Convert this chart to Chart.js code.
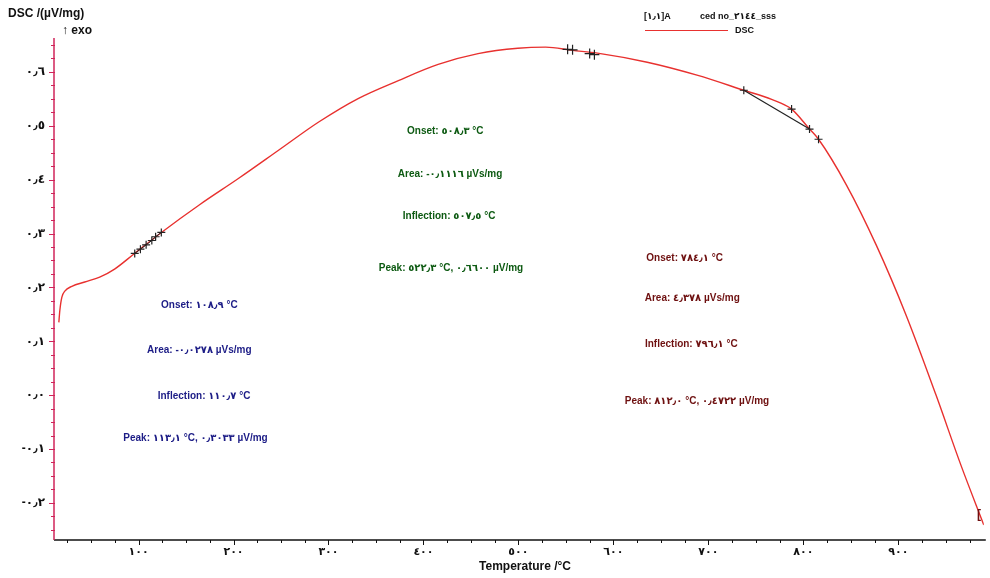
<!DOCTYPE html>
<html><head><meta charset="utf-8">
<script src="https://cdn.jsdelivr.net/npm/chart.js@4"></script>
<style>html,body{margin:0;padding:0;background:#fff}#wrap{width:990px;height:578px}</style>
</head><body><div id="wrap"><canvas id="c" width="990" height="578"></canvas></div>
<script>
// ---- data ----
const temperature = [16.1,17.2,19.3,22.4,29.8,43.4,59.1,74.8,95.8,124.1,163.9,205.9,247.8,289.7,331.7,373.6,415.5,457.5,499.4,528.7,557,583.2,635.6,688,737.3,766.6,787.6,806.5,816,845.4,876.9,908.3,939.7,965.9,990];
const dscSignal   = [0.135,0.158,0.182,0.193,0.202,0.210,0.219,0.234,0.263,0.302,0.353,0.403,0.455,0.507,0.551,0.584,0.614,0.634,0.644,0.646,0.640,0.635,0.618,0.594,0.566,0.549,0.531,0.494,0.475,0.390,0.278,0.148,0.0,-0.130,-0.241];
const onsetMarkT = [96,102,108,114,118,124];
const onsetMarkV = [0.263,0.271,0.279,0.287,0.294,0.302];
const peakMarkT = [551.8,557,575,580];
const peakMarkV = [0.642,0.641,0.634,0.632];
const endoMarkT = [737.3,787.6,806.5,816];
const endoMarkV = [0.566,0.531,0.494,0.475];
const baselineT = [737.3,806.5];
const baselineV = [0.566,0.494];
const yTicks = [-0.2,-0.1,0,0.1,0.2,0.3,0.4,0.5,0.6];
const xTicks = [100,200,300,400,500,600,700,800,900];
const greenTexts = ['Onset: ٥٠٨٫٣ °C','Area: -٠٫١١١٦ µVs/mg','Inflection: ٥٠٧٫٥ °C','Peak: ٥٢٢٫٣ °C, ٠٫٦٦٠٠ µV/mg'];
const greenT = [423,428,427,429];
const greenV = [0.490,0.410,0.332,0.236];
const blueTexts = ['Onset: ١٠٨٫٩ °C','Area: -٠٫٠٢٧٨ µVs/mg','Inflection: ١١٠٫٧ °C','Peak: ١١٣٫١ °C, ٠٫٣٠٣٣ µV/mg'];
const blueT = [164,164,169,160];
const blueV = [0.167,0.083,-0.002,-0.080];
const redTexts = ['Onset: ٧٨٤٫١ °C','Area: ٤٫٣٧٨ µVs/mg','Inflection: ٧٩٦٫١ °C','Peak: ٨١٢٫٠ °C, ٠٫٤٧٢٢ µV/mg'];
const redT = [675,683,682,688];
const redV = [0.254,0.180,0.095,-0.011];

const AR = '٠١٢٣٤٥٦٧٨٩';
function toAr(s){ return String(s).replace(/[0-9]/g,d=>AR[+d]).replace('.', '٫'); }
function pts(xs, ys){ return xs.map((x,i)=>({x:x,y:ys[i]})); }

const FONT = '"Liberation Sans","DejaVu Sans",Arial,sans-serif';
const CURVE = '#e8312f';
const AXISRED = '#d0245a';

const overlay = {
  id:'overlay',
  afterDraw(chart){
    const ctx = chart.ctx, a = chart.chartArea, xs = chart.scales.x, ys = chart.scales.y;
    ctx.save();
    ctx.lineWidth = 1.5;
    ctx.strokeStyle = '#111';
    ctx.beginPath(); ctx.moveTo(a.left, a.bottom); ctx.lineTo(a.right+2, a.bottom); ctx.stroke();
    ctx.strokeStyle = AXISRED;
    ctx.beginPath(); ctx.moveTo(a.left, a.top); ctx.lineTo(a.left, a.bottom); ctx.stroke();
    ctx.lineWidth = 1;
    for (let v=-0.25; v<=0.66; v+=0.025){
      const p = Math.round(ys.getPixelForValue(v))+0.5;
      if (p < a.top || p > a.bottom) continue;
      const major = Math.abs(v*10 - Math.round(v*10)) < 1e-6;
      ctx.beginPath(); ctx.moveTo(a.left - (major?5:3), p); ctx.lineTo(a.left+1, p); ctx.stroke();
    }
    ctx.strokeStyle = '#111';
    for (let v=25; v<=975; v+=25){
      const p = Math.round(xs.getPixelForValue(v))+0.5;
      const major = v % 100 === 0;
      ctx.beginPath(); ctx.moveTo(p, a.bottom); ctx.lineTo(p, a.bottom + (major?5:3)); ctx.stroke();
    }
    ctx.fillStyle = '#111';
    ctx.font = 'bold 12px ' + FONT;
    ctx.textAlign = 'left'; ctx.textBaseline = 'middle';
    ctx.fillText('DSC /(µV/mg)', 8, 14);
    ctx.fillText('↑ exo', 62, 31);
    ctx.textAlign = 'center';
    ctx.fillText('Temperature /°C', 525, 567);
    ctx.font = 'bold 9px ' + FONT;
    ctx.textAlign = 'left';
    ctx.fillText('[١٫١]A', 644, 17);
    ctx.fillText('ced no_٢١٤٤_sss', 700, 17);
    ctx.fillText('DSC', 735, 31);
    ctx.strokeStyle = CURVE; ctx.lineWidth = 1.2;
    ctx.beginPath(); ctx.moveTo(645, 30.5); ctx.lineTo(728, 30.5); ctx.stroke();
    ctx.font = 'bold 10px ' + FONT;
    ctx.textAlign = 'center';
    const groups = [[greenTexts,greenT,greenV,'#0d5a12'],[blueTexts,blueT,blueV,'#1c1c86'],[redTexts,redT,redV,'#6e1010']];
    groups.forEach(g=>{
      ctx.fillStyle = g[3];
      g[0].forEach((t,i)=>ctx.fillText(t, xs.getPixelForValue(g[1][i]), ys.getPixelForValue(g[2][i])));
    });
    ctx.fillStyle = '#6e1010';
    ctx.font = 'bold 12px ' + FONT;
    ctx.fillText('[', xs.getPixelForValue(985), ys.getPixelForValue(-0.222));
    ctx.restore();
  }
};

new Chart(document.getElementById('c'), {
  type:'line',
  data:{ datasets:[
    {data:pts(temperature,dscSignal), borderColor:CURVE, borderWidth:1.4, pointRadius:0, cubicInterpolationMode:'monotone', order:3},
    {data:pts(onsetMarkT,onsetMarkV), borderColor:'#222', backgroundColor:'#222', borderWidth:1, showLine:true, pointStyle:'cross', pointRadius:4, pointBorderWidth:1.2, order:1},
    {data:pts(peakMarkT,peakMarkV), borderColor:'#222', showLine:false, pointStyle:'cross', pointRadius:5, pointBorderWidth:1.2, order:1},
    {data:pts(endoMarkT,endoMarkV), borderColor:'#222', showLine:false, pointStyle:'cross', pointRadius:4, pointBorderWidth:1.2, order:1},
    {data:pts(baselineT,baselineV), borderColor:'#222', borderWidth:1.2, pointRadius:0, order:2}
  ]},
  options:{
    responsive:false, animation:false, devicePixelRatio:1,
    layout:{padding:{top:38,right:2,left:0,bottom:0}},
    plugins:{legend:{display:false}, tooltip:{enabled:false}},
    scales:{
      x:{type:'linear', min:11, max:990, grid:{display:false, drawTicks:false}, border:{display:false},
        afterBuildTicks(s){ s.ticks = xTicks.map(v=>({value:v})); },
        afterFit(s){ s.height = 38; },
        ticks:{padding:5, color:'#111', font:{family:FONT, size:11, weight:'bold'}, maxRotation:0, autoSkip:false, callback:v=>toAr(v)}},
      y:{type:'linear', min:-0.269, max:0.663, grid:{display:false, drawTicks:false}, border:{display:false},
        afterBuildTicks(s){ s.ticks = yTicks.map(v=>({value:v})); },
        afterFit(s){ s.width = 54; },
        ticks:{padding:9, color:'#111', font:{family:FONT, size:12, weight:'bold'}, autoSkip:false, callback:v=>toAr(Number(v).toFixed(1))}}
    }
  },
  plugins:[overlay]
});
</script></body></html>
